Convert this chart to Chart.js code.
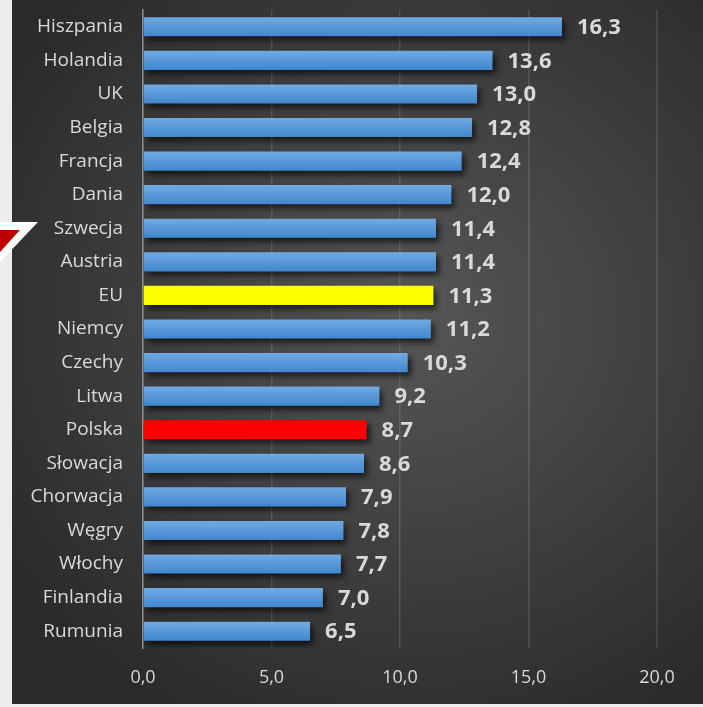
<!DOCTYPE html>
<html>
<head>
<meta charset="utf-8">
<script src="https://cdn.jsdelivr.net/npm/chart.js@4.4.3/dist/chart.umd.min.js"></script>
<style>
  html, body { margin: 0; padding: 0; background: #ededed; }
  #wrap {
    position: absolute; left: 12px; top: 0; width: 691px; height: 704px;
    background: radial-gradient(ellipse 70% 65% at 58% 45%, #565656 0%, #3e3e3e 55%, #2a2a2a 100%);
  }
  #deco { position: absolute; left: 0; top: 200px; }
</style>
</head>
<body>
<div id="wrap"><canvas id="chart" width="691" height="704"></canvas></div>
<svg id="deco" width="60" height="80">
  <polygon points="0,22 38,22 0,62" fill="#ffffff"/>
  <polygon points="0,30 20,30 0,52" fill="#c00000"/>
</svg>
<script>
// kraje, od najwyzszej wartosci
const countries = ["Hiszpania", "Holandia", "UK", "Belgia", "Francja", "Dania", "Szwecja", "Austria", "EU",
  "Niemcy", "Czechy", "Litwa", "Polska", "Słowacja", "Chorwacja", "Węgry", "Włochy", "Finlandia", "Rumunia"];
const values = [16.3, 13.6, 13.0, 12.8, 12.4, 12.0, 11.4, 11.4, 11.3, 11.2, 10.3, 9.2, 8.7, 8.6, 7.9, 7.8, 7.7, 7.0, 6.5];
const xTicks = [0, 5, 10, 15, 20];

const fmt = v => v.toFixed(1).replace(".", ",");

function barColor(ctx) {
  const name = countries[ctx.dataIndex];
  if (name === "EU") return "#ffff00";
  if (name === "Polska") return "#ff0000";
  const chart = ctx.chart;
  const y = chart.scales.y;
  if (!y || !chart.chartArea) return "#5b9bd5";
  const c = y.getPixelForValue(ctx.dataIndex);
  const g = chart.ctx.createLinearGradient(0, c - 10, 0, c + 10);
  g.addColorStop(0, "#73abe2");
  g.addColorStop(1, "#3f86cf");
  return g;
}

const barShadow = {
  id: "barShadow",
  beforeDatasetsDraw(chart) {
    const ctx = chart.ctx;
    ctx.save();
    ctx.shadowColor = "rgba(0,0,0,0.65)";
    ctx.shadowBlur = 6;
    ctx.shadowOffsetX = 3;
    ctx.shadowOffsetY = 4;
  },
  afterDatasetsDraw(chart) {
    chart.ctx.restore();
  }
};

const valueLabels = {
  id: "valueLabels",
  afterDatasetsDraw(chart) {
    const ctx = chart.ctx;
    const meta = chart.getDatasetMeta(0);
    ctx.save();
    ctx.font = "bold 22px 'Open Sans'";
    ctx.fillStyle = "#d9d9d9";
    ctx.textAlign = "left";
    ctx.textBaseline = "middle";
    meta.data.forEach((bar, i) => {
      ctx.fillText(fmt(values[i]), bar.x + 15, bar.y + 1);
    });
    ctx.restore();
  }
};

new Chart(document.getElementById("chart"), {
  type: "bar",
  data: {
    labels: countries,
    datasets: [{
      data: values,
      backgroundColor: barColor,
      borderWidth: 0,
      barPercentage: 0.57,
      categoryPercentage: 1.0
    }]
  },
  options: {
    indexAxis: "y",
    responsive: false,
    animation: false,
    layout: { padding: { left: 0, right: 46, top: 10, bottom: 0 } },
    plugins: { legend: { display: false }, tooltip: { enabled: false } },
    scales: {
      x: {
        min: 0, max: 20,
        afterBuildTicks: s => { s.ticks = xTicks.map(v => ({ value: v })); },
        afterFit: s => { s.height = 56; s.paddingLeft = 0; s.paddingRight = 0; },
        ticks: {
          color: "#d9d9d9",
          font: { family: "'Open Sans'", size: 18 },
          padding: 19,
          callback: v => fmt(v)
        },
        grid: { color: "rgba(255,255,255,0.13)", lineWidth: 1.5, drawTicks: false },
        border: { display: false }
      },
      y: {
        afterFit: s => { s.width = 131; s.paddingTop = 0; s.paddingBottom = 0; },
        ticks: {
          color: "#d9d9d9",
          font: { family: "'Open Sans'", size: 19 },
          padding: 20
        },
        grid: { display: false, drawTicks: false },
        border: { color: "#8c8c8c", width: 1.5 }
      }
    }
  },
  plugins: [barShadow, valueLabels]
});
</script>
</body>
</html>
